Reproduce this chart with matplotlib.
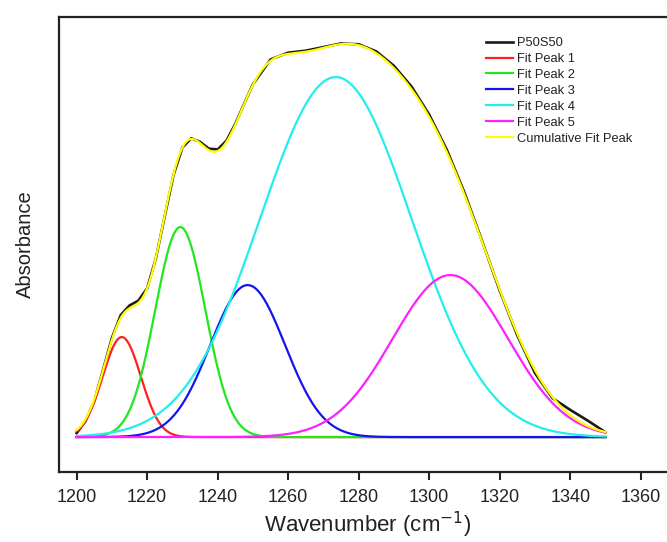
import numpy as np
import matplotlib.pyplot as plt

plt.rcParams['font.family'] = ['Liberation Sans', 'DejaVu Sans']

# measured spectrum (P50S50), absorbance in a.u.
wavenumber = [1200, 1202.5, 1205, 1207.5, 1210, 1212.5, 1215, 1217.5, 1220, 1222.5,
              1225, 1227.5, 1230, 1232.5, 1235, 1237.5, 1240, 1242.5, 1245, 1247.5,
              1250, 1255, 1260, 1265, 1270, 1275, 1280, 1285, 1290, 1295,
              1300, 1305, 1310, 1315, 1320, 1325, 1330, 1335, 1340, 1345, 1350]
absorbance = [0.010, 0.040, 0.090, 0.168, 0.248, 0.305, 0.329, 0.341, 0.372, 0.448,
              0.553, 0.656, 0.724, 0.747, 0.738, 0.721, 0.719, 0.741, 0.783, 0.833,
              0.882, 0.944, 0.961, 0.966, 0.975, 0.984, 0.982, 0.964, 0.928, 0.876,
              0.806, 0.718, 0.611, 0.490, 0.366, 0.254, 0.160, 0.097, 0.068, 0.041, 0.012]

# fitted gaussian components: centre (cm-1), height (a.u.), sigma (cm-1)
peak_names = ['Fit Peak 1', 'Fit Peak 2', 'Fit Peak 3', 'Fit Peak 4', 'Fit Peak 5']
peak_centres = [1212.8, 1229.4, 1248.5, 1273.5, 1306.0]
peak_heights = [0.25, 0.525, 0.38, 0.90, 0.405]
peak_sigmas = [5.4, 7.1, 10.6, 21.5, 16.4]
peak_colors = ['#ff2020', '#22e622', '#1414ee', '#22eeee', '#ff20ff']

x = np.linspace(1200, 1350, 601)
components = [h * np.exp(-0.5 * ((x - c) / s) ** 2)
              for c, h, s in zip(peak_centres, peak_heights, peak_sigmas)]
cumulative = np.sum(components, axis=0)

fig = plt.figure(figsize=(6.67, 5.42), dpi=100)
ax = fig.add_axes([0.0885, 0.129, 0.925, 0.8395])

lw = 1.6
ax.plot(wavenumber, absorbance, color='#1a1a1a', lw=lw + 0.3, label='P50S50')
for comp, name, col in zip(components, peak_names, peak_colors):
    ax.plot(x, comp, color=col, lw=lw, label=name)
ax.plot(x, cumulative, color='#ffff00', lw=lw, label='Cumulative Fit Peak')

ax.set_xlim(1195.0, 1370)
ax.set_ylim(-0.0875, 1.05)
ax.set_xticks(np.arange(1200, 1361, 20))
ax.set_yticks([])
ax.tick_params(axis='x', direction='out', length=6, width=1.5, labelsize=13,
               color='#222222', labelcolor='#222222', pad=6)
for sp in ax.spines.values():
    sp.set_linewidth(1.6)
    sp.set_color('#222222')

ax.set_xlabel('Wavenumber (cm$^{-1}$)', fontsize=16, color='#222222', labelpad=3)
ax.set_ylabel('Absorbance', fontsize=14.5, color='#222222', labelpad=17)

leg = ax.legend(loc='upper left', bbox_to_anchor=(0.692, 0.956), frameon=False,
                fontsize=9.3, handlelength=2.1, handletextpad=0.3, labelspacing=0.3,
                borderpad=0, borderaxespad=0)
for t in leg.get_texts():
    t.set_color('#222222')

plt.savefig('out.png', dpi=100)
